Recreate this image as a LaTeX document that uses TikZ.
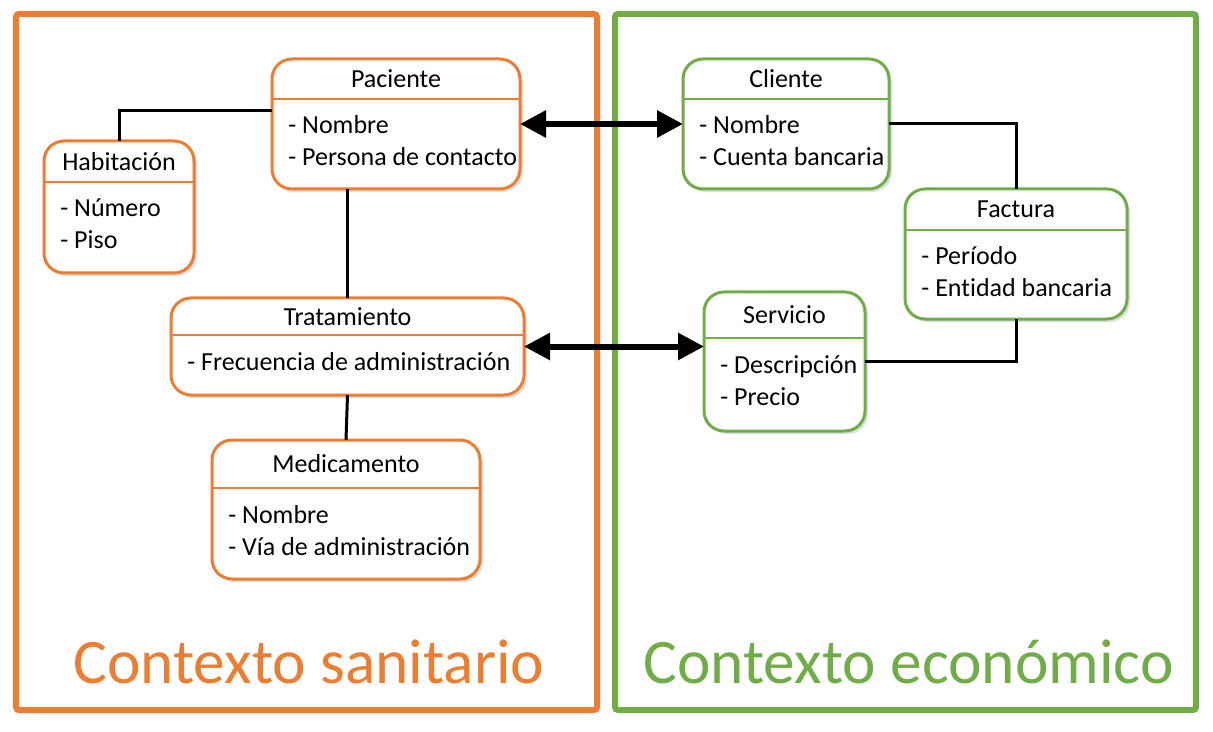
\documentclass[tikz,border=0pt]{standalone}
\usepackage{fontspec}
\setmainfont{Carlito}[Ligatures=NoCommon]
\usetikzlibrary{arrows.meta,calc,shadows}

\definecolor{sanitarioorange}{HTML}{ED7D31}
\definecolor{economicogreen}{HTML}{70AD47}

\newcommand{\attrskip}{32}
\newcommand{\attrdrop}{35}

% [color] name, x, y, width, height, title height, title, attributes
\newcommand{\umlclass}[9][sanitarioorange]{%
  \node[class box, draw=#1, minimum width=#5*0.5pt, minimum height=#6*0.5pt] (#2) at (#3,#4) {};
  \draw[divider, draw=#1] ($(#2.north west)+(0,#7)$) -- ($(#2.north east)+(0,#7)$);
  \node[class font] (#2-title) at ($(#2.north)+(0,#7/2)$) {#8};
  \foreach \attr [count=\i] in {#9} {
    \node[class font, anchor=base west] (#2-attr\i) at ($(#2.north west)+(16,#7+\attrdrop+\attrskip*\i-\attrskip)$) {\attr};
  }%
}

\begin{document}
\begin{tikzpicture}[
    x=0.5pt, y=-0.5pt,
    class font/.style={font=\fontsize{13}{15}\selectfont, inner sep=0pt},
    context font/.style={font=\fontsize{31.7}{36}\selectfont, inner sep=0pt},
    class box/.style={rectangle, rounded corners=10pt, line width=1.5pt, fill=white, inner sep=0pt, outer sep=0pt,
        drop shadow={opacity=0.25, shadow xshift=1.5pt, shadow yshift=-1.5pt}},
    divider/.style={line width=1pt},
    context frame/.style={rectangle, rounded corners=1.5pt, line width=3pt, inner sep=0pt, outer sep=0pt},
    link/.style={line width=1.5pt},
    big arrow/.style={line width=3pt, {Triangle[length=13pt,width=13pt]}-{Triangle[length=13pt,width=13pt]}}
]
\useasboundingbox (0,0) rectangle (1213,732);

% CONTEXTS
\node[context frame, draw=sanitarioorange, minimum width=581*0.5pt, minimum height=696*0.5pt] (sanitario frame) at (306.5,362) {};
\node[context frame, draw=economicogreen, minimum width=581*0.5pt, minimum height=696*0.5pt] (economico frame) at (905.5,362) {};

\node[context font, text=sanitarioorange, anchor=base] (sanitario label) at (309,683) {Contexto sanitario};
\node[context font, text=economicogreen, anchor=base] (economico label) at (908.5,683) {Contexto económico};

% CLASSES
\umlclass{pac}{396}{124}{248}{130}{40}{Paciente}{- Nombre, - Persona de contacto}
\umlclass{hab}{119}{207}{150}{132}{41}{Habitación}{- Número, - Piso}
\umlclass{trat}{347.5}{346.5}{353}{97}{37}{Tratamiento}{- Frecuencia de administración}
\umlclass{med}{346}{509.5}{268}{139}{48}{Medicamento}{- Nombre, - Vía de administración}

\umlclass[economicogreen]{cli}{786}{124}{206}{130}{40}{Cliente}{- Nombre, - Cuenta bancaria}
\umlclass[economicogreen]{fac}{1016}{254}{222}{130}{41}{Factura}{- Período, - Entidad bancaria}
\umlclass[economicogreen]{serv}{784.5}{361.5}{161}{139}{46}{Servicio}{- Descripción, - Precio}

% LINKS
\draw[link] (hab.north) |- ([yshift=6.5pt]pac.west);
\draw[link] (trat.north) -- (trat.north |- pac.south);
\draw[link] (trat.south) -- (med.north);
\draw[link] (cli.east) -| (fac.north);
\draw[link] (serv.east) -| (fac.south);

\draw[big arrow] (pac.east) -- (cli.west);
\draw[big arrow] (trat.east) -- (trat.east -| serv.west);

\end{tikzpicture}
\end{document}
